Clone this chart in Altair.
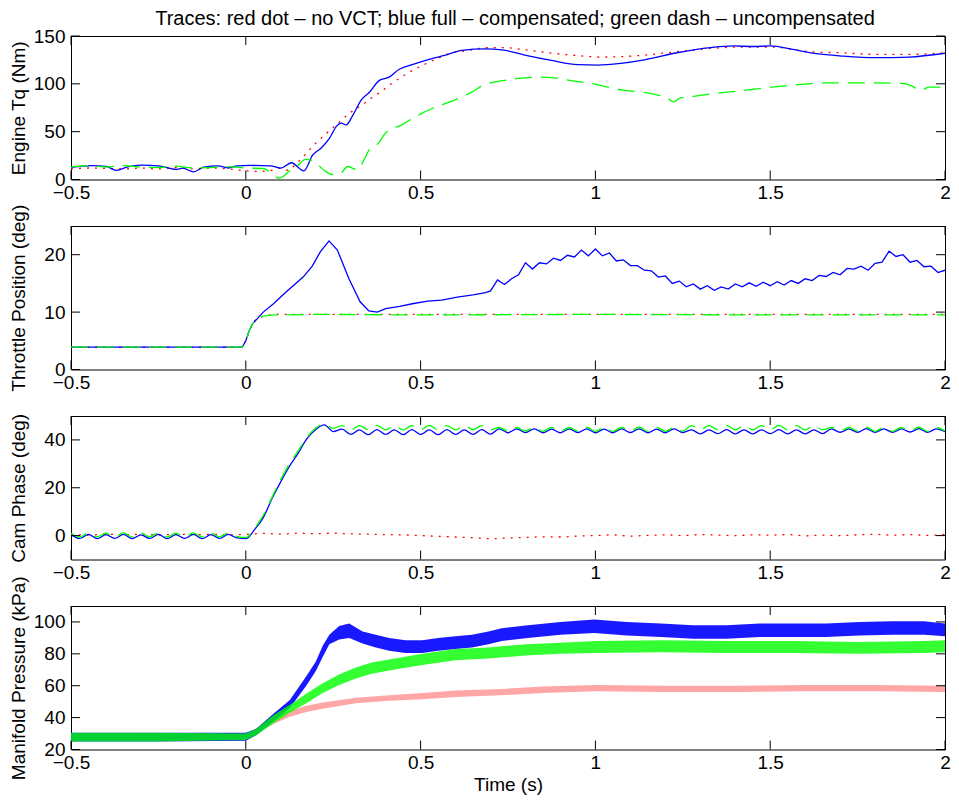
import altair as alt
import pandas as pd

FONT = "Liberation Sans"
FS = 19
FS_T = 19
BLUE = "#0000ff"
GREEN = "#00ff00"
RED = "#ff0000"

TITLE = "Traces: red dot \u2013 no VCT; blue full \u2013 compensated; green dash \u2013 uncompensated"
X_TICKS = [-0.5, 0, 0.5, 1, 1.5, 2]

# ---------------- Panel 1: Engine torque (Nm) ----------------
TQ_BLUE_T = [-0.5, -0.44, -0.4, -0.37, -0.34, -0.3, -0.25, -0.22, -0.2, -0.18, -0.15, -0.12, -0.08, -0.05,
             -0.025, 0.01, 0.07, 0.1, 0.13, 0.166, 0.192, 0.216, 0.24, 0.259, 0.273, 0.287, 0.306, 0.33,
             0.353, 0.382, 0.41, 0.438, 0.476, 0.524, 0.571, 0.618, 0.685, 0.733, 0.798, 0.874, 0.95,
             1.007, 1.073, 1.14, 1.234, 1.329, 1.395, 1.452, 1.5, 1.565, 1.632, 1.707, 1.802, 1.897, 2.0]
TQ_BLUE = [12.6, 14.5, 13.8, 9.5, 12.9, 15, 14.3, 12, 10.5, 11.9, 8, 12.9, 14.3, 12,
           14.3, 14.7, 14.3, 11.9, 17.5, 9, 25.9, 32.9, 43.4, 55.6, 59, 57, 67, 83,
           91, 103.6, 107, 115, 120, 125.6, 130, 135, 136.5, 135.5, 130, 124.5, 120,
           119.6, 121.4, 125, 132.5, 137.8, 139.6, 139, 139.6, 136, 131.5, 129, 127.3, 128, 132]

TQ_RED_T = [-0.5, -0.45, -0.4, -0.35, -0.3, -0.25, -0.2, -0.15, -0.1, -0.05, 0.0, 0.04, 0.08, 0.1,
            0.121, 0.14, 0.159, 0.194, 0.221, 0.261, 0.298, 0.32, 0.344, 0.363, 0.382, 0.42, 0.462,
            0.505, 0.543, 0.59, 0.63, 0.694, 0.74, 0.789, 0.865, 0.94, 1.016, 1.09, 1.139, 1.234,
            1.329, 1.42, 1.5, 1.613, 1.707, 1.8, 1.9, 2.0]
TQ_RED = [11, 12, 11.5, 11, 12, 11, 12.5, 11, 12, 11, 9, 8.5, 10, 12,
          9.5, 15, 21.7, 35.7, 45, 58, 69.6, 75, 80.8, 86, 90.6, 101, 110.9,
          119.3, 125.6, 132.5, 134.5, 137.8, 137.8, 136, 132.5, 129.8, 128, 128.7, 130, 133.6,
          137, 138.5, 138.5, 133.6, 132.4, 130.8, 130.8, 132.4]

TQ_GREEN_T = [-0.5, -0.45, -0.4, -0.35, -0.3, -0.25, -0.2, -0.15, -0.1, -0.05, 0.0, 0.05, 0.08, 0.095,
              0.11, 0.13, 0.15, 0.17, 0.19, 0.21, 0.23, 0.25, 0.268, 0.292, 0.31, 0.32, 0.336, 0.353,
              0.377, 0.4, 0.448, 0.476, 0.533, 0.576, 0.647, 0.68, 0.741, 0.779, 0.846, 0.883, 0.94,
              0.978, 1.045, 1.078, 1.139, 1.17, 1.205, 1.224, 1.243, 1.281, 1.329, 1.385, 1.47, 1.565,
              1.66, 1.78, 1.878, 1.906, 1.93, 1.954, 2.0]
TQ_GREEN = [13, 14.5, 13, 14.5, 13, 12.5, 14, 12, 12.5, 13.5, 12, 11.5, 4, 1.4,
            4, 11, 15, 21, 20, 14, 8, 5, 5.6, 13.6, 11, 10, 19, 31,
            37, 48.6, 57.4, 63.7, 74.2, 80, 91.6, 98.6, 103.6, 105.7, 107, 106.3, 102.8,
            101, 95.8, 93.4, 91, 88.9, 85.3, 81.1, 85.3, 87, 89.5, 91.6, 95.1, 98.6,
            101, 101, 100.4, 97.6, 93, 96.5, 96.5]

# ---------------- Panel 2: Throttle position (deg) ----------------
THR_BLUE_T = [-0.5, -0.01, 0.0, 0.01, 0.02, 0.035, 0.05, 0.08, 0.115, 0.164, 0.19, 0.213, 0.238, 0.262,
              0.295, 0.327, 0.352, 0.376, 0.4, 0.44, 0.48, 0.52, 0.56, 0.605, 0.65, 0.686]
THR_BLUE = [3.9, 3.9, 5.0, 6.8, 8.0, 9.0, 10.0, 11.5, 13.5, 16.1, 18, 20.5, 22.4, 20.8,
            15.8, 11.8, 10.2, 10.0, 10.6, 11.0, 11.5, 11.9, 12.1, 12.6, 13.0, 13.4]
# sawtooth part, sampled every 0.02 s from 0.70 s
THR_RIP_T0, THR_RIP_DT = 0.70, 0.02
THR_BLUE_RIP = [13.7, 15.6, 14.8, 15.8, 16.5, 18.6, 17.5, 18.6, 18.4, 19.4, 19.0, 19.9, 19.6, 20.8,
                19.8, 21.0, 19.8, 20.3, 18.9, 19.1, 18.1, 18.1, 17.3, 17.2, 16.1, 16.3, 15.0, 15.4,
                14.4, 14.9, 14.0, 14.6, 13.8, 14.4, 14.0, 14.9, 14.4, 15.1, 14.5, 15.2, 14.6, 15.3,
                14.7, 15.5, 15.0, 15.8, 15.5, 16.4, 16.2, 16.9, 16.5, 17.6, 17.5, 18.0, 17.3, 18.5,
                18.7, 20.6, 19.7, 20.0, 18.7, 19.0, 17.9, 18.0, 16.9, 17.3]

THR_RED_T = [-0.5, -0.01, 0.0, 0.01, 0.02, 0.03, 0.05, 0.08, 0.2, 0.5, 1.0, 1.5, 2.0]
THR_RED = [3.9, 3.9, 5.0, 6.8, 8.0, 8.8, 9.3, 9.6, 9.6, 9.6, 9.6, 9.6, 9.6]
THR_GREEN_T = [-0.5, -0.01, 0.0, 0.01, 0.02, 0.03, 0.05, 0.08, 0.2, 0.5, 1.0, 1.5, 2.0]
THR_GREEN = [3.9, 3.9, 5.0, 6.8, 8.0, 8.8, 9.3, 9.5, 9.6, 9.5, 9.6, 9.5, 9.5]

# ---------------- Panel 3: Cam phase (deg), sampled every 0.025 s from -0.5 s ----------------
CAM_T0, CAM_DT = -0.5, 0.025
CAM_BLUE = [0.4, -1.2, 0.5, -1.3, 0.4, -1.2, 0.5, -1.3, 0.3, -1.2, 0.5, -1.3, 0.4, -1.2, 0.5, -1.3,
            0.4, -1.2, 0.5, -1.0,
            -1.3, 2.5, 7.5, 15.5, 22.5, 29, 34.5, 40.5, 44.4, 46.3, 43.5,
            44.5, 42.3, 44.2, 42.2, 44.3, 42.3, 44.2, 42.2, 44.3, 42.3, 44.2, 42.2, 44.3, 42.3,
            44.2, 42.3, 44.3, 42.4,
            44.6, 43.0, 44.6, 43.1, 44.6, 43.0, 44.5, 43.0, 44.6, 43.1, 44.6, 43.0, 44.5, 43.0,
            44.6, 43.1, 44.6, 43.0, 44.5, 43.0, 44.6, 43.1,
            44.2, 42.5, 44.2, 42.6, 44.3, 42.5, 44.2, 42.5, 44.2, 42.6, 44.3, 42.5, 44.2, 42.5,
            44.2, 42.6,
            44.6, 43.2, 44.6, 43.2, 44.7, 43.2, 44.6, 43.2, 44.6, 43.3, 44.7, 43.2, 44.6, 43.4]
CAM_GREEN = [1.0, -0.6, 1.1, -0.5, 1.0, -0.7, 1.1, -0.6, 1.0, -0.5, 1.1, -0.6, 1.0, -0.7, 1.1, -0.6,
             1.0, -0.5, 1.1, -0.4,
             -0.8, 3.0, 8.5, 16.0, 23.5, 30.0, 35.5, 41.0, 45.0, 46.6, 44.8,
             46.0, 44.2, 46.0, 44.3, 46.1, 44.2, 46.0, 44.2, 46.0, 44.3, 46.1, 44.2, 46.0, 44.2,
             46.0, 44.3, 46.0, 44.2,
             45.2, 43.6, 45.2, 43.7, 45.3, 43.6, 45.2, 43.6, 45.2, 43.7, 45.3, 43.6, 45.2, 43.6,
             45.2, 43.7, 45.3, 43.6, 45.2, 43.6, 45.2, 43.7,
             46.0, 44.2, 46.0, 44.3, 46.1, 44.2, 46.0, 44.2, 46.0, 44.3, 46.1, 44.2, 46.0, 44.2,
             46.0, 44.3,
             45.2, 43.6, 45.2, 43.7, 45.3, 43.6, 45.2, 43.6, 45.2, 43.7, 45.3, 43.6, 45.2, 43.8]
CAM_RED_DT = 0.05
CAM_RED = [0.5, 0.2, 0.6, 0.3, 0.5, 0.2, 0.6, 0.4, 0.5, 0.3,
           0.5, 0.9, 0.6, 1.0, 0.8, 1.0, 0.7, 0.6, 0.4, 0.3,
           0.0, -0.3, -0.6, -0.9, -1.3, -1.0, -0.8, -0.5, -0.6, -0.2,
           0.0, 0.3, -0.2, 0.1, 0.3, 0.0, 0.4, 0.2, 0.0, 0.3,
           0.2, 0.4, -0.1, 0.2, 0.0, 0.3, 0.5, 0.2, 0.4, 0.1,
           0.5]

# ---------------- Panel 4: Manifold pressure (kPa), noisy band low / high ----------------
MAP_BLUE_T = [-0.5, -0.25, 0.0, 0.03, 0.079, 0.126, 0.173, 0.2, 0.22, 0.239, 0.267, 0.296, 0.334, 0.372,
              0.41, 0.457, 0.505, 0.55, 0.6, 0.647, 0.694, 0.732, 0.807, 0.9, 0.997, 1.09, 1.187, 1.28,
              1.375, 1.47, 1.565, 1.66, 1.755, 1.85, 1.94, 2.0]
MAP_BLUE_LO = [25, 25, 25.5, 29, 37.5, 46, 60, 69, 78, 86, 89, 90, 86.5, 84,
               82, 80.5, 80.5, 82, 83, 84, 86, 88, 90, 92, 93, 91.5, 90.5, 89.5,
               89.5, 90.5, 90.5, 90.5, 91.5, 92, 92, 91]
MAP_BLUE_HI = [30.5, 30.5, 30.5, 33, 42.5, 51, 66, 75, 85, 92, 97.5, 99, 94, 92,
               90, 88.5, 88.5, 90, 91, 92, 94, 96, 98, 100, 101.5, 100, 99, 98,
               98, 99, 99, 99, 100, 100.5, 100.5, 99]

MAP_GREEN_T = [-0.5, -0.25, 0.0, 0.03, 0.079, 0.126, 0.173, 0.22, 0.267, 0.315, 0.36, 0.41, 0.505, 0.6,
               0.694, 0.8, 0.9, 1.0, 1.19, 1.375, 1.565, 1.75, 1.94, 2.0]
MAP_GREEN_LO = [25, 25, 26, 29, 36.5, 43, 49, 55.5, 60.5, 64.5, 67.5, 69.5, 73, 76,
                77, 79, 80, 80.5, 81, 80.5, 80.5, 80, 80.5, 81]
MAP_GREEN_HI = [30.5, 30.5, 30, 33, 41.5, 48, 55, 61.5, 67, 71.5, 74.5, 76.5, 80, 83,
                84, 86, 87, 88, 88.5, 88, 88, 87.5, 88, 88.5]

MAP_RED_T = [-0.5, 0.0, 0.079, 0.126, 0.173, 0.22, 0.315, 0.41, 0.505, 0.6, 0.73, 0.85, 1.0, 1.2,
             1.4, 1.6, 1.8, 2.0]
MAP_RED_LO = [26.5, 26.5, 36, 40.5, 43.5, 45.5, 49, 50.5, 51.5, 53, 54, 55.5, 56.5, 56,
              56, 56.5, 56.5, 56]
MAP_RED_HI = [29, 29.5, 40, 44.5, 47.5, 49.5, 52.5, 54, 55.5, 57, 58, 59.5, 60.5, 60,
              60, 60.5, 60.5, 60]

W, H, TK = 874, 143.5, 9


def line_df(t, v):
    return pd.DataFrame({"t": t, "v": v})


def step_t(t0, dt, n):
    return [round(t0 + i * dt, 4) for i in range(n)]


def band_df(t, lo, hi):
    return pd.DataFrame({"t": t, "lo": lo, "hi": hi})


def make_panel(lines, bands, ydom, yticks, ytitle, xtitle, extra=None):
    xs = alt.Scale(domain=[-0.5, 2], nice=False, zero=False)
    ys = alt.Scale(domain=ydom, nice=False, zero=False)
    common = dict(grid=False, ticks=False, tickSize=0, domain=False, labelFlush=False,
                  labelOverlap=False, labelFontSize=FS, labelFont=FONT, labelColor="black",
                  titleFontSize=FS_T, titleFont=FONT, titleFontWeight="normal", titleColor="black",
                  format="~f")
    xa = alt.Axis(values=X_TICKS, title=xtitle, labelPadding=4, titlePadding=3, **common)
    ya = alt.Axis(values=yticks, title=ytitle, labelPadding=6, titleX=-53, titleY=H / 2,
                  titleAngle=270, titleAlign="center", titleBaseline="middle", **common)
    X = alt.X("t:Q", scale=xs, axis=xa)
    layers = []
    for df, color, opacity in bands:
        layers.append(alt.Chart(df).mark_area(color=color, opacity=opacity, clip=True).encode(
            x=X, y=alt.Y("lo:Q", scale=ys, axis=ya), y2="hi:Q"))
    for df, color, dash, interp in lines:
        mk = dict(color=color, strokeWidth=1.3, clip=True, interpolate=interp)
        if dash:
            mk["strokeDash"] = dash
        layers.append(alt.Chart(df).mark_line(**mk).encode(
            x=X, y=alt.Y("v:Q", scale=ys, axis=ya)))
    xt = pd.DataFrame({"t": X_TICKS})
    yt = pd.DataFrame({"v": yticks})
    rule = dict(color="black", strokeWidth=1)
    layers.append(alt.Chart(xt).mark_rule(**rule).encode(x=X, y=alt.value(0), y2=alt.value(TK)))
    layers.append(alt.Chart(xt).mark_rule(**rule).encode(x=X, y=alt.value(H), y2=alt.value(H - TK)))
    layers.append(alt.Chart(yt).mark_rule(**rule).encode(
        y=alt.Y("v:Q", scale=ys, axis=ya), x=alt.value(0), x2=alt.value(TK)))
    layers.append(alt.Chart(yt).mark_rule(**rule).encode(
        y=alt.Y("v:Q", scale=ys, axis=ya), x=alt.value(W), x2=alt.value(W - TK)))
    if extra is not None:
        layers.append(extra)
    return alt.layer(*layers).properties(width=W, height=H)


DOT = [2, 6]
DASH = [17, 9]
M = "monotone"

title_mark = alt.Chart(pd.DataFrame({"label": [TITLE]})).mark_text(
    font=FONT, fontSize=20, color="black", align="center", baseline="alphabetic"
).encode(x=alt.value(W / 2 + 7), y=alt.value(-11), text="label:N")

p1 = make_panel(
    [(line_df(TQ_RED_T, TQ_RED), RED, DOT, M),
     (line_df(TQ_BLUE_T, TQ_BLUE), BLUE, None, M),
     (line_df(TQ_GREEN_T, TQ_GREEN), GREEN, DASH, M)],
    [], [0, 150], [0, 50, 100, 150], "Engine Tq (Nm)", None, extra=title_mark)

thr_blue_df = pd.concat([
    line_df(THR_BLUE_T, THR_BLUE),
    line_df(step_t(THR_RIP_T0, THR_RIP_DT, len(THR_BLUE_RIP)), THR_BLUE_RIP),
], ignore_index=True)

p2 = make_panel(
    [(line_df(THR_RED_T, THR_RED), RED, DOT, "linear"),
     (thr_blue_df, BLUE, None, "linear"),
     (line_df(THR_GREEN_T, THR_GREEN), GREEN, DASH, "linear")],
    [], [0, 25], [0, 10, 20], "Throttle Position (deg)", None)

p3 = make_panel(
    [(line_df(step_t(CAM_T0, CAM_RED_DT, len(CAM_RED)), CAM_RED), RED, DOT, M),
     (line_df(step_t(CAM_T0, CAM_DT, len(CAM_BLUE)), CAM_BLUE), BLUE, None, M),
     (line_df(step_t(CAM_T0, CAM_DT, len(CAM_GREEN)), CAM_GREEN), GREEN, DASH, M)],
    [], [-10, 50], [0, 20, 40], "Cam Phase (deg)", None)

p4 = make_panel(
    [],
    [(band_df(MAP_RED_T, MAP_RED_LO, MAP_RED_HI), RED, 0.35),
     (band_df(MAP_BLUE_T, MAP_BLUE_LO, MAP_BLUE_HI), BLUE, 0.9),
     (band_df(MAP_GREEN_T, MAP_GREEN_LO, MAP_GREEN_HI), GREEN, 0.8)],
    [20, 110], [20, 40, 60, 80, 100], "Manifold Pressure (kPa)", "Time (s)")

chart = alt.vconcat(p1, p2, p3, p4, spacing=46, bounds="flush").properties(
    padding={"left": 0, "right": 0, "top": 0, "bottom": 0},
).configure_view(stroke="black", strokeWidth=1)

chart.save("out.html", embed_options={"renderer": "svg", "actions": False})
